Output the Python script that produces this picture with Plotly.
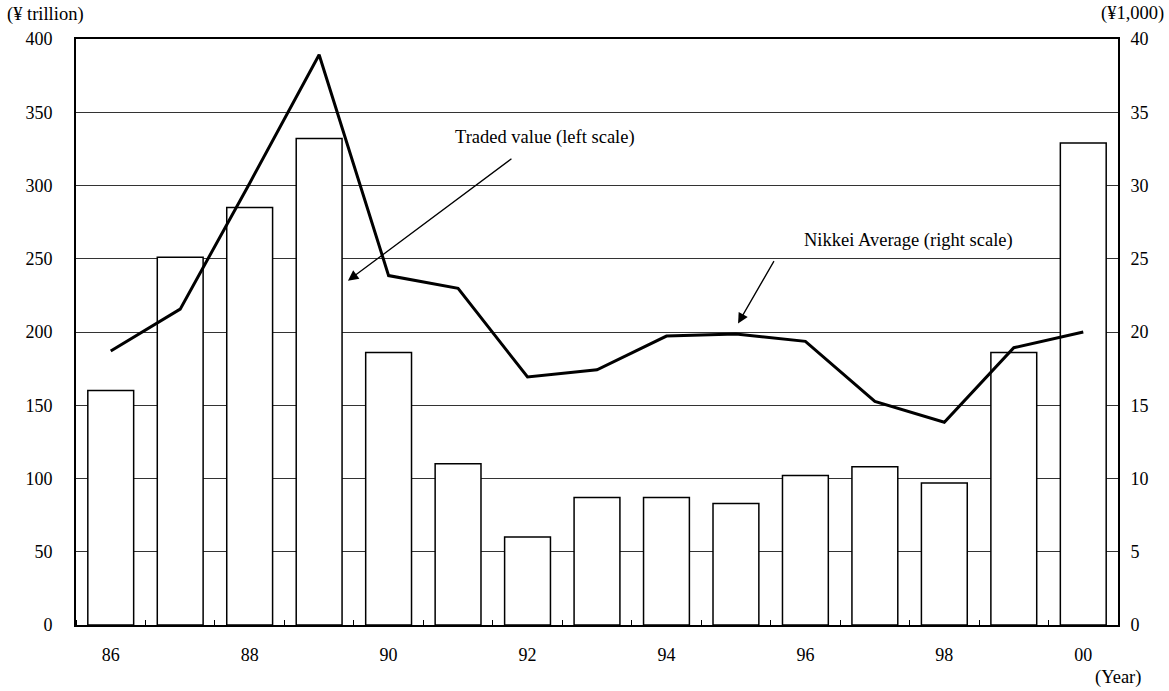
import plotly.graph_objects as go

years = ["86", "87", "88", "89", "90", "91", "92", "93", "94", "95", "96", "97", "98", "99", "00"]
traded_value = [160, 251, 285, 332, 186, 110, 60, 87, 87, 83, 102, 108, 97, 186, 329]
nikkei = [18.70, 21.56, 30.16, 38.92, 23.85, 22.98, 16.93, 17.42, 19.72, 19.87, 19.36, 15.26, 13.84, 18.93, 20.0]
left_ticks = [0, 50, 100, 150, 200, 250, 300, 350, 400]
right_ticks = [0, 5, 10, 15, 20, 25, 30, 35, 40]

xs = list(range(len(years)))
FONT = "Liberation Serif"
TXT = 18.5

fig = go.Figure()
fig.add_trace(go.Bar(
    x=xs, y=traded_value, yaxis="y",
    marker=dict(color="white", line=dict(color="black", width=1.5)),
    width=0.66, showlegend=False,
))
fig.add_trace(go.Scatter(
    x=xs, y=nikkei, yaxis="y2", mode="lines",
    line=dict(color="black", width=3), showlegend=False,
))

fig.update_layout(
    width=1169, height=691,
    margin=dict(l=76, r=51, t=39, b=66),
    paper_bgcolor="white", plot_bgcolor="white",
    font=dict(family=FONT, size=18, color="black"),
    xaxis=dict(
        range=[-0.5, len(years) - 0.5],
        tickvals=xs[::2], ticktext=years[::2],
        ticks="", showgrid=False, zeroline=False,
        showline=True, linecolor="black", linewidth=2, mirror=True,
        ticklabelstandoff=12,
        minor=dict(ticks="inside", tick0=0.5, dtick=1, ticklen=5, tickcolor="black", tickwidth=1, showgrid=False),
    ),
    yaxis=dict(
        range=[0, 400], tickvals=left_ticks,
        showgrid=True, gridcolor="#333333", gridwidth=1,
        zeroline=False, showline=True, linecolor="black", linewidth=2,
        ticks="", ticklabelstandoff=18,
    ),
    yaxis2=dict(
        range=[0, 40], tickvals=right_ticks, overlaying="y", side="right",
        showgrid=False, zeroline=False, showline=True, linecolor="black", linewidth=2,
        ticks="", ticklabelstandoff=7,
    ),
    bargap=0.34,
)

annotations = [
    dict(text="(¥ trillion)", xref="paper", yref="paper", x=-0.068, y=1.041, xanchor="left", yanchor="middle", showarrow=False, font=dict(size=TXT)),
    dict(text="(¥1,000)", xref="paper", yref="paper", x=1.046, y=1.044, xanchor="right", yanchor="middle", showarrow=False, font=dict(size=TXT)),
    dict(text="(Year)", xref="paper", yref="paper", x=1.024, y=-0.090, xanchor="right", yanchor="middle", showarrow=False, font=dict(size=TXT)),
    dict(text="Traded value (left scale)", x=6.25, y=332.5, xref="x", yref="y", showarrow=False, font=dict(size=TXT)),
    dict(text="Nikkei Average (right scale)", x=11.48, y=262.4, xref="x", yref="y", showarrow=False, font=dict(size=TXT)),
    dict(text="", x=3.415, y=235, ax=5.79, ay=319, xref="x", yref="y", axref="x", ayref="y",
         showarrow=True, arrowhead=2, arrowsize=1.6, arrowwidth=1.3, arrowcolor="black"),
    dict(text="", x=9.03, y=205.8, ax=9.56, ay=249.4, xref="x", yref="y", axref="x", ayref="y",
         showarrow=True, arrowhead=2, arrowsize=1.6, arrowwidth=1.3, arrowcolor="black"),
]
fig.update_layout(annotations=annotations)

fig.write_html("out.html", config={"displayModeBar": False},
               post_script="document.body.style.margin='0';")
